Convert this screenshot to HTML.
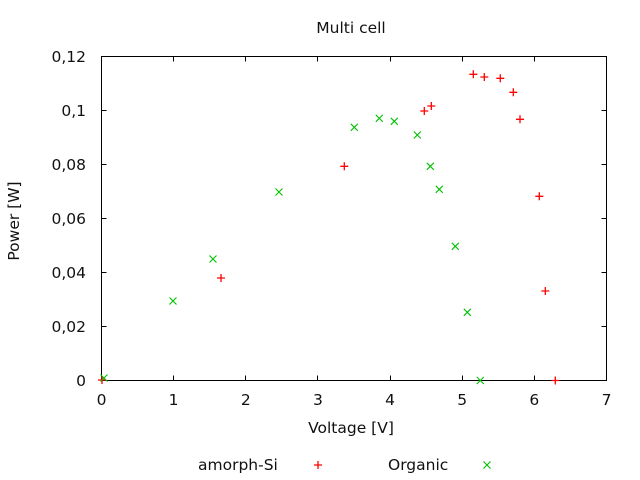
<!DOCTYPE html>
<html>
<head>
<meta charset="utf-8">
<style>
html,body{margin:0;padding:0;background:#fff;}
svg{display:block;}
text{font-family:"DejaVu Sans","Liberation Sans",sans-serif;font-size:15.5px;fill:#111;}
</style>
</head>
<body>
<svg width="640" height="480" viewBox="0 0 640 480" xmlns="http://www.w3.org/2000/svg">
<rect width="640" height="480" fill="#fff"/>
<!-- frame -->
<rect x="101.5" y="56.5" width="505" height="324" fill="none" stroke="#000" stroke-width="1" shape-rendering="crispEdges"/>
<g stroke="#000" stroke-width="1" shape-rendering="crispEdges">
<!-- y ticks left & right -->
<path d="M101.5 326.5h5M101.5 272.5h5M101.5 218.5h5M101.5 164.5h5M101.5 110.5h5
M606.5 326.5h-5M606.5 272.5h-5M606.5 218.5h-5M606.5 164.5h-5M606.5 110.5h-5"/>
<!-- x ticks bottom & top -->
<path d="M173.5 380.5v-5M245.5 380.5v-5M317.5 380.5v-5M390.5 380.5v-5M462.5 380.5v-5M534.5 380.5v-5
M173.5 56.5v5M245.5 56.5v5M317.5 56.5v5M390.5 56.5v5M462.5 56.5v5M534.5 56.5v5"/>
</g>
<!-- y tick labels -->
<g text-anchor="end">
<text x="86" y="386">0</text>
<text x="86" y="332">0,02</text>
<text x="86" y="278">0,04</text>
<text x="86" y="224">0,06</text>
<text x="86" y="170">0,08</text>
<text x="86" y="116">0,1</text>
<text x="86" y="62">0,12</text>
</g>
<!-- x tick labels -->
<g text-anchor="middle">
<text x="101.5" y="405">0</text>
<text x="173.6" y="405">1</text>
<text x="245.8" y="405">2</text>
<text x="317.9" y="405">3</text>
<text x="390.1" y="405">4</text>
<text x="462.2" y="405">5</text>
<text x="534.3" y="405">6</text>
<text x="606.5" y="405">7</text>
<text x="351" y="33">Multi cell</text>
<text x="351" y="433">Voltage [V]</text>
<text transform="translate(19,221) rotate(-90)">Power [W]</text>
</g>
<!-- legend -->
<text x="198" y="470">amorph-Si</text>
<text x="388" y="470">Organic</text>
<!-- amorph-Si markers -->
<g stroke="#ff0000" stroke-width="1.3" fill="none">
<path d="M102 376v8M98 380h8"/>
<path d="M221 274v8M217 278h8"/>
<path d="M344.3 162.3v8M340.3 166.3h8"/>
<path d="M424.3 107v8M420.3 111h8"/>
<path d="M431.3 102v8M427.3 106h8"/>
<path d="M473.3 70.3v8M469.3 74.3h8"/>
<path d="M484.3 73v8M480.3 77h8"/>
<path d="M500.3 74.3v8M496.3 78.3h8"/>
<path d="M513.3 88.3v8M509.3 92.3h8"/>
<path d="M520 115.3v8M516 119.3h8"/>
<path d="M539.3 192.3v8M535.3 196.3h8"/>
<path d="M545.3 287v8M541.3 291h8"/>
<path d="M555.3 376.5v8M551.3 380.5h8"/>
<path d="M318 461v8M314 465h8"/>
</g>
<!-- Organic markers -->
<g stroke="#00c000" stroke-width="1.1" fill="none">
<path d="M100.5 374.5l7 7M100.5 381.5l7 -7"/>
<path d="M169.5 297.5l7 7M169.5 304.5l7 -7"/>
<path d="M209.5 255.5l7 7M209.5 262.5l7 -7"/>
<path d="M275.5 188.5l7 7M275.5 195.5l7 -7"/>
<path d="M350.8 123.8l7 7M350.8 130.8l7 -7"/>
<path d="M375.8 114.8l7 7M375.8 121.8l7 -7"/>
<path d="M390.8 117.8l7 7M390.8 124.8l7 -7"/>
<path d="M413.8 131.5l7 7M413.8 138.5l7 -7"/>
<path d="M426.8 162.8l7 7M426.8 169.8l7 -7"/>
<path d="M435.8 185.8l7 7M435.8 192.8l7 -7"/>
<path d="M451.8 242.8l7 7M451.8 249.8l7 -7"/>
<path d="M463.8 308.8l7 7M463.8 315.8l7 -7"/>
<path d="M476.8 377l7 7M476.8 384l7 -7"/>
<path d="M483.5 461.5l7 7M483.5 468.5l7 -7"/>
</g>
</svg>
</body>
</html>
